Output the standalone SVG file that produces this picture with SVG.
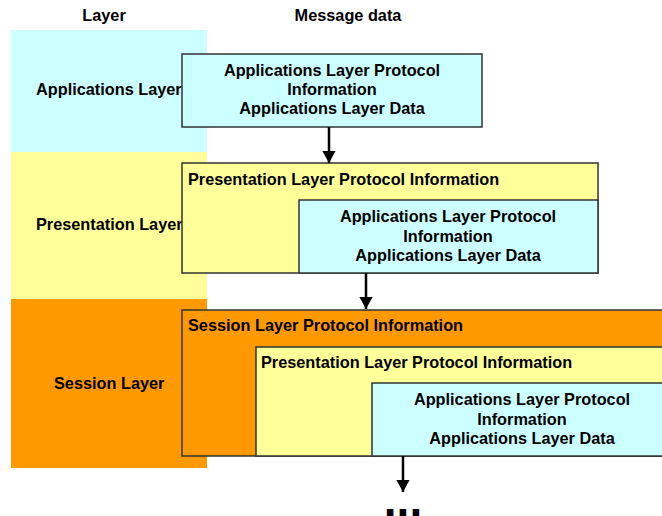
<svg xmlns="http://www.w3.org/2000/svg" width="662" height="516" viewBox="0 0 662 516">
<style>
text{font-family:"Liberation Sans",Arial,sans-serif;font-weight:bold;font-size:16.3px;fill:#000}
.c{text-anchor:middle}
.box{stroke:#333;stroke-width:1.5}
.cy{fill:#CCFFFF}.ye{fill:#FFFF99}.or{fill:#FF9900}
.conn{stroke:#000;stroke-width:2.5;fill:none}
</style>
<defs>
<marker id="ah" viewBox="0 0 10 10" refX="10" refY="5" markerWidth="5" markerHeight="5.5" markerUnits="strokeWidth" orient="auto" preserveAspectRatio="none">
<path d="M0,0L10,5L0,10z" fill="#000"/>
</marker>
</defs>
<g id="headers">
<text class="c" x="104" y="21">Layer</text>
<text class="c" x="348" y="21">Message data</text>
</g>
<g id="layer-app">
<rect class="cy" x="11" y="30" width="196" height="122"/>
<text x="36" y="95">Applications Layer</text>
</g>
<g id="layer-pres">
<rect class="ye" x="11" y="152" width="196" height="147"/>
<text x="36" y="230">Presentation Layer</text>
</g>
<g id="layer-sess">
<rect class="or" x="11" y="299" width="196" height="169"/>
<text x="54" y="389">Session Layer</text>
</g>
<g id="msg-app">
<rect class="box cy" x="182" y="54" width="300" height="73"/>
<text class="c" x="332" y="76">Applications Layer Protocol</text>
<text class="c" x="332" y="95">Information</text>
<text class="c" x="332" y="114">Applications Layer Data</text>
</g>
<g id="msg-pres">
<rect class="box ye" x="182" y="163" width="416" height="110"/>
<text x="188" y="185">Presentation Layer Protocol Information</text>
<rect class="box cy" x="299" y="200" width="299" height="73"/>
<text class="c" x="448" y="222">Applications Layer Protocol</text>
<text class="c" x="448" y="242">Information</text>
<text class="c" x="448" y="261">Applications Layer Data</text>
</g>
<g id="msg-sess">
<rect class="box or" x="182" y="310" width="490" height="146"/>
<text x="188" y="331">Session Layer Protocol Information</text>
<rect class="box ye" x="256" y="347" width="416" height="109"/>
<text x="261" y="368">Presentation Layer Protocol Information</text>
<rect class="box cy" x="372" y="383" width="300" height="73"/>
<text class="c" x="522" y="405">Applications Layer Protocol</text>
<text class="c" x="522" y="425">Information</text>
<text class="c" x="522" y="444">Applications Layer Data</text>
</g>
<g id="connectors">
<line class="conn" x1="329" y1="127" x2="329" y2="163" marker-end="url(#ah)"/>
<line class="conn" x1="366" y1="273" x2="366" y2="309" marker-end="url(#ah)"/>
<line class="conn" x1="403" y1="456" x2="403" y2="492" marker-end="url(#ah)"/>
</g>
<g id="ellipsis">
<text class="c" x="403" y="516" style="font-size:46px">...</text>
</g>
</svg>
